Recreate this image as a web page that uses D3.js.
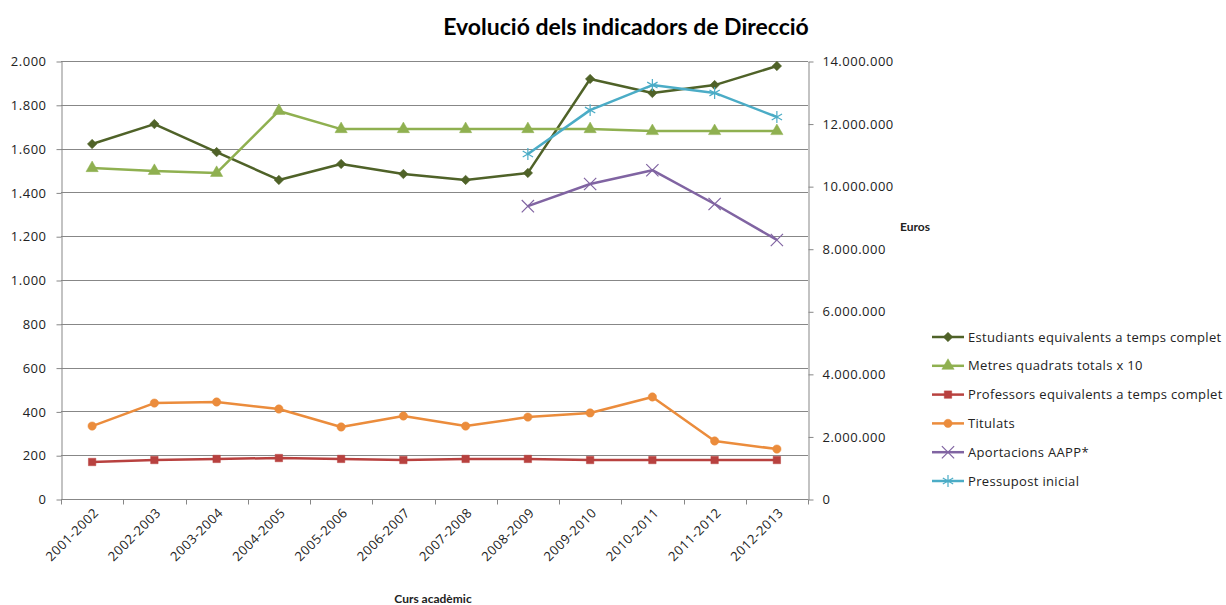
<!DOCTYPE html>
<html>
<head>
<meta charset="utf-8">
<script src="https://cdn.jsdelivr.net/npm/d3@7"></script>
<style>
  body { margin: 0; background: #fff; }
  text { font-family: "Open Sans", sans-serif; fill: #222; }
</style>
</head>
<body>
<script>
// Dades
var cursos = ["2001-2002", "2002-2003", "2003-2004", "2004-2005", "2005-2006", "2006-2007",
  "2007-2008", "2008-2009", "2009-2010", "2010-2011", "2011-2012", "2012-2013"];
var estudiants = [1621, 1712, 1584, 1457, 1530, 1484, 1457, 1489, 1918, 1854, 1890, 1977];
var metres = [1511, 1498, 1489, 1772, 1689, 1689, 1689, 1689, 1689, 1680, 1680, 1680];
var professors = [169, 178, 183, 187, 183, 178, 183, 183, 178, 178, 178, 178];
var titulats = [333, 438, 443, 411, 329, 379, 333, 374, 393, 466, 265, 228];
var aportacions = [null, null, null, null, null, null, null, 9360000, 10070000, 10510000, 9430000, 8280000];
var pressupost = [null, null, null, null, null, null, null, 11030000, 12430000, 13230000, 12980000, 12210000];
var leftTicks = [0, 200, 400, 600, 800, 1000, 1200, 1400, 1600, 1800, 2000];
var rightTicks = [0, 2000000, 4000000, 6000000, 8000000, 10000000, 12000000, 14000000];

(function(d3) {
  "use strict";

  var W = 1226, H = 605;
  var plot = { left: 61, right: 808, top: 61, bottom: 499 };

  var svg = d3.select("body").append("svg")
    .attr("width", W)
    .attr("height", H);

  var locale = d3.formatLocale({ decimal: ",", thousands: ".", grouping: [3], currency: ["", "€"] });
  var fmt = locale.format(",d");

  /***** Scales *****/
  var x = d3.scaleBand().domain(cursos).range([plot.left, plot.right]).padding(0);
  var yL = d3.scaleLinear().domain([0, 2000]).range([plot.bottom, plot.top]);
  var yR = d3.scaleLinear().domain([0, 14000000]).range([plot.bottom, plot.top]);
  var cx = function(i) { return x(cursos[i]) + x.bandwidth() / 2; };

  // Title
  svg.append("text")
    .attr("x", 626)
    .attr("y", 35)
    .attr("text-anchor", "middle")
    .style("font-family", "Lato, sans-serif")
    .style("font-weight", "bold")
    .style("font-size", "23px")
    .style("fill", "#000")
    .text("Evolució dels indicadors de Direcció");

  // Gridlines
  svg.append("g").selectAll("line")
    .data(leftTicks.slice(1))
    .enter().append("line")
    .attr("x1", plot.left).attr("x2", plot.right)
    .attr("y1", function(d) { return Math.round(yL(d)) + 0.5; })
    .attr("y2", function(d) { return Math.round(yL(d)) + 0.5; })
    .attr("stroke", "#878787");

  // Axes
  var axisL = svg.append("g")
    .attr("transform", "translate(" + (plot.left + 0.5) + ",0.5)")
    .call(d3.axisLeft(yL).tickValues(leftTicks).tickFormat(fmt).tickSize(5).tickSizeOuter(0).tickPadding(10));
  var axisR = svg.append("g")
    .attr("transform", "translate(" + (plot.right + 0.5) + ",0.5)")
    .call(d3.axisRight(yR).tickValues(rightTicks).tickFormat(fmt).tickSize(5).tickSizeOuter(0).tickPadding(9));
  var axisX = svg.append("g")
    .attr("transform", "translate(0," + (plot.bottom + 0.5) + ")");
  axisX.append("line")
    .attr("x1", plot.left).attr("x2", plot.right)
    .attr("stroke", "#878787");
  axisX.selectAll("line.tk")
    .data(d3.range(cursos.length + 1))
    .enter().append("line")
    .attr("class", "tk")
    .attr("x1", function(i) { return Math.round(plot.left + i * x.step()) + 0.5; })
    .attr("x2", function(i) { return Math.round(plot.left + i * x.step()) + 0.5; })
    .attr("y1", 0).attr("y2", 5)
    .attr("stroke", "#878787");
  axisX.selectAll("text")
    .data(cursos)
    .enter().append("text")
    .attr("transform", function(d, i) { return "translate(" + (cx(i) + 4) + ",11) rotate(-45)"; })
    .attr("text-anchor", "end")
    .attr("dy", "0.35em")
    .style("font-size", "13px")
    .style("letter-spacing", "0.5px")
    .text(function(d) { return d; });

  [axisL, axisR].forEach(function(a) {
    a.select(".domain").attr("stroke", "#878787");
    a.selectAll(".tick line").attr("stroke", "#878787");
    a.selectAll(".tick text").style("font-size", "13px").style("letter-spacing", "0.5px").style("fill", "#222");
  });

  // Axis titles
  svg.append("text")
    .attr("x", 915).attr("y", 231)
    .attr("text-anchor", "middle")
    .style("font-family", "Lato, sans-serif")
    .style("font-weight", "bold").style("font-size", "12px")
    .text("Euros");
  svg.append("text")
    .attr("x", 433).attr("y", 603)
    .attr("text-anchor", "middle")
    .style("font-family", "Lato, sans-serif")
    .style("font-weight", "bold").style("font-size", "12px")
    .text("Curs acadèmic");

  /***** Series *****/
  var series = [
    { name: "Estudiants equivalents a temps complet", values: estudiants, y: yL, color: "#4f6228", symbol: d3.symbolSquare, size: 45, rotate: 45, fill: true },
    { name: "Metres quadrats totals x 10", values: metres, y: yL, color: "#8fb050", symbol: d3.symbolTriangle, size: 65, rotate: 0, fill: true },
    { name: "Professors equivalents a temps complet", values: professors, y: yL, color: "#b8413f", symbol: d3.symbolSquare, size: 55, rotate: 0, fill: true },
    { name: "Titulats", values: titulats, y: yL, color: "#eb8c3c", symbol: d3.symbolCircle, size: 55, rotate: 0, fill: true },
    { name: "Aportacions AAPP*", values: aportacions, y: yR, color: "#8064a2", symbol: d3.symbolX, size: 100, rotate: 0, fill: false },
    { name: "Pressupost inicial", values: pressupost, y: yR, color: "#4bacc6", symbol: d3.symbolAsterisk, size: 100, rotate: 0, fill: false }
  ];

  function marker(sel, s) {
    sel.attr("d", d3.symbol().type(s.symbol).size(s.size)())
      .attr("fill", s.fill ? s.color : "none")
      .attr("stroke", s.color)
      .attr("stroke-width", s.fill ? 0.5 : 1.2);
  }

  series.forEach(function(s) {
    var line = d3.line()
      .defined(function(d) { return d != null; })
      .x(function(d, i) { return cx(i); })
      .y(function(d) { return s.y(d); });
    var g = svg.append("g");
    g.append("path")
      .datum(s.values)
      .attr("d", line)
      .attr("fill", "none")
      .attr("stroke", s.color)
      .attr("stroke-width", 2.5)
      .attr("stroke-linejoin", "round");
    g.selectAll("path.m")
      .data(s.values.map(function(v, i) { return { v: v, i: i }; }).filter(function(d) { return d.v != null; }))
      .enter().append("path")
      .attr("class", "m")
      .attr("transform", function(d) { return "translate(" + cx(d.i) + "," + s.y(d.v) + ") rotate(" + s.rotate + ")"; })
      .call(marker, s);
  });

  /***** Legend *****/
  var legend = svg.append("g").attr("transform", "translate(932,337)");
  var item = legend.selectAll("g")
    .data(series)
    .enter().append("g")
    .attr("transform", function(d, i) { return "translate(0," + (i * 28.8) + ")"; });
  item.append("line")
    .attr("x1", 0).attr("x2", 32)
    .attr("stroke", function(d) { return d.color; })
    .attr("stroke-width", 2.5);
  item.append("path")
    .attr("transform", function(d) { return "translate(16,0) rotate(" + d.rotate + ")"; })
    .each(function(d) { d3.select(this).call(marker, d); });
  item.append("text")
    .attr("x", 36)
    .attr("dy", "0.35em")
    .style("font-size", "13px")
    .style("letter-spacing", "0.33px")
    .text(function(d) { return d.name; });
})(d3);
</script>
</body>
</html>
